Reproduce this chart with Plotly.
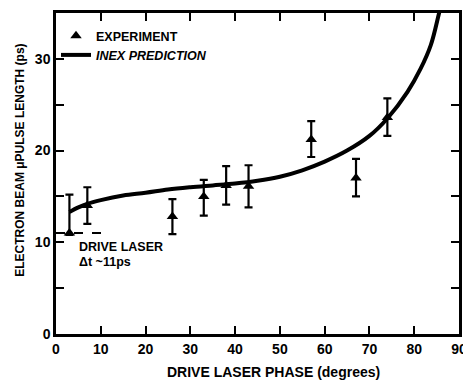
import plotly.graph_objects as go

# Experimental data (drive laser phase in degrees, pulse length in ps)
exp_phase = [3, 7, 26, 33, 38, 43, 57, 67, 74]
exp_length = [11.0, 14.0, 12.8, 15.0, 16.2, 16.1, 21.2, 17.0, 23.6]
exp_err_plus = [4.2, 2.0, 1.9, 1.8, 2.1, 2.3, 2.0, 2.1, 2.1]
exp_err_minus = [0.2, 2.0, 1.9, 2.1, 2.1, 2.3, 1.9, 2.0, 2.0]

# INEX prediction curve
inex_phase = [3, 5, 7, 10, 15, 20, 25, 30, 35, 40, 45, 50, 55, 60, 65, 70, 74,
              78.5, 81.4, 83.7, 85.5, 86.5]
inex_length = [13.3, 13.8, 14.2, 14.6, 15.1, 15.4, 15.75, 16.0, 16.2, 16.4, 16.7, 17.15, 17.85,
               18.8, 20.0, 21.6, 23.5, 26.4, 28.9, 31.5, 34.9, 37.0]

# Drive laser pulse length marker
laser_phase = [0, 10.5]
laser_dt = [11, 11]

x_ticks = [0, 10, 20, 30, 40, 50, 60, 70, 80, 90]
y_ticks = [0, 5, 10, 15, 20, 25, 30]
y_ticktext = ["0", "", "10", "", "20", "", "30"]

FONT = "Liberation Sans"

fig = go.Figure()

fig.add_trace(go.Scatter(
    x=inex_phase, y=inex_length, mode="lines",
    line=dict(color="black", width=4, shape="spline", smoothing=1.0),
    name="<i>INEX PREDICTION</i>", legendrank=2,
))

fig.add_trace(go.Scatter(
    x=laser_phase, y=laser_dt, mode="lines",
    line=dict(color="black", width=2, dash="dash"),
    showlegend=False, hoverinfo="skip",
))

fig.add_trace(go.Scatter(
    x=exp_phase, y=exp_length, mode="markers",
    marker=dict(symbol="triangle-up", size=10, color="black"),
    error_y=dict(type="data", symmetric=False, array=exp_err_plus,
                 arrayminus=exp_err_minus, color="black", thickness=2.2, width=4),
    name="EXPERIMENT", legendrank=1,
))

axis_common = dict(
    showgrid=False, zeroline=False, showline=True, linecolor="black", linewidth=2.5,
    ticks="inside", ticklen=8, tickwidth=2, tickcolor="black", mirror="ticks",
    tickfont=dict(family=FONT, size=14, color="black", weight="bold"),
)

fig.update_xaxes(range=[0, 90], tickmode="array", tickvals=x_ticks, **axis_common)
fig.update_yaxes(range=[0, 35], tickmode="array", tickvals=y_ticks, ticktext=y_ticktext,
                 **axis_common)

ann_font = dict(family=FONT, size=12.5, color="black", weight="bold")
fig.add_annotation(
    text="DRIVE LASER", x=4.6, y=9.5, xref="x", yref="y",
    xanchor="left", yanchor="middle", showarrow=False, font=ann_font,
)
fig.add_annotation(
    text="\u0394t ~11ps", x=4.6, y=7.8, xref="x", yref="y",
    xanchor="left", yanchor="middle", showarrow=False, font=ann_font,
)

fig.add_annotation(
    text="DRIVE LASER PHASE (degrees)", xref="paper", yref="paper",
    x=0.54, y=-0.117, xanchor="center", yanchor="middle", showarrow=False,
    font=dict(family=FONT, size=14, color="black", weight="bold"),
)
fig.add_annotation(
    text="ELECTRON BEAM \u03bcPULSE LENGTH (ps)", xref="paper", yref="paper",
    x=-0.089, y=0.54, xanchor="center", yanchor="middle", textangle=-90,
    showarrow=False,
    font=dict(family=FONT, size=12, color="black", weight="bold"),
)

# page body adds an 8px offset; compensate so the plot area sits where the reference's does
fig.update_layout(
    width=463, height=375,
    margin=dict(l=48, r=12, t=2, b=49),
    paper_bgcolor="white", plot_bgcolor="white",
    showlegend=True,
    legend=dict(x=0.0, y=0.975, xanchor="left", yanchor="top",
                bgcolor="rgba(0,0,0,0)", itemwidth=30, tracegroupgap=0,
                font=dict(family=FONT, size=12.5, color="black", weight="bold")),
)

fig.write_html("out.html")
